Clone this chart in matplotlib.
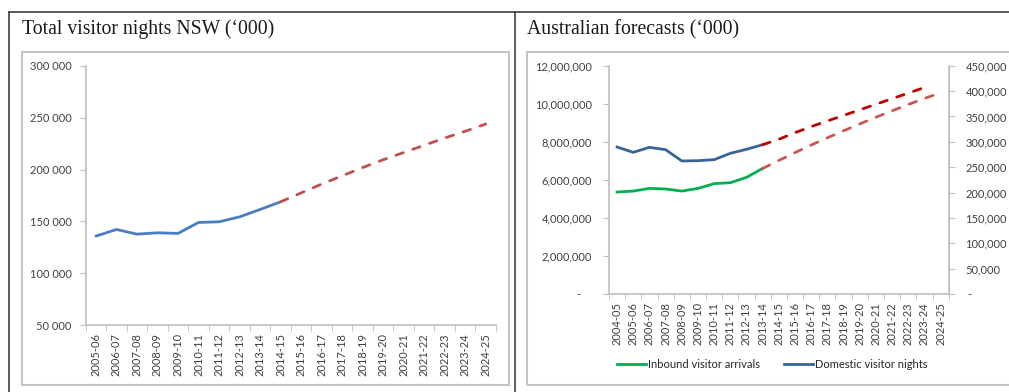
import matplotlib.pyplot as plt
from matplotlib.lines import Line2D
from matplotlib.patches import Rectangle
from matplotlib.ticker import FuncFormatter, MultipleLocator

plt.rcParams['font.family'] = ['Lato', 'DejaVu Sans']

# NSW visitor nights ('000)
nsw_years = ['2005-06', '2006-07', '2007-08', '2008-09', '2009-10', '2010-11', '2011-12',
             '2012-13', '2013-14', '2014-15', '2015-16', '2016-17', '2017-18', '2018-19',
             '2019-20', '2020-21', '2021-22', '2022-23', '2023-24', '2024-25']
nsw_actual = [135800, 142200, 137700, 139000, 138400, 149000, 149600, 154400, 161500, 168900]
nsw_forecast = [168900, 177500, 186000, 194000, 202000, 209500, 216500, 223500, 230500,
                237000, 244000]

# Australia: inbound arrivals (left axis) and domestic nights (right axis)
aus_years = ['2004-05'] + nsw_years
inbound_actual = [5360000, 5410000, 5550000, 5520000, 5410000, 5550000, 5800000, 5850000,
                  6130000, 6600000]
inbound_forecast = [6600000, 7020000, 7430000, 7830000, 8210000, 8580000, 8940000, 9290000,
                    9630000, 9960000, 10280000, 10580000]
domestic_actual = [289700, 279200, 289100, 284500, 262200, 262800, 264800, 277300, 285200,
                   294300]
domestic_forecast = [294300, 305000, 318000, 330000, 341000, 352000, 363000, 374000, 385000,
                     396000, 407000]

W, H = 1009, 392
fig = plt.figure(figsize=(W / 100, H / 100), dpi=100)


def fx(px):
    return px / W


def fy(py):
    return 1 - py / H


# outer frame lines and inner chart boxes
dark = '#404040'
fig.add_artist(Line2D([fx(9), 1], [fy(12), fy(12)], color=dark, lw=1.2))
fig.add_artist(Line2D([fx(9), fx(9)], [fy(12), 0], color=dark, lw=1.2))
fig.add_artist(Line2D([fx(514.5), fx(514.5)], [fy(12), 0], color=dark, lw=1.2))
for x0, x1 in [(22, 509), (527, 1012)]:
    fig.add_artist(Rectangle((fx(x0), fy(385)), fx(x1 - x0), (385 - 52) / H,
                             fill=False, ec='#c4c4c4', lw=1.5))

fig.text(fx(22), fy(34), 'Total visitor nights NSW (\u2018000)', family='Liberation Serif',
         fontsize=14.2, color='#1a1a1a', va='baseline')
fig.text(fx(527), fy(34), 'Australian forecasts (\u2018000)', family='Liberation Serif',
         fontsize=14.2, color='#1a1a1a', va='baseline')

grey = '#bfbfbf'
lbl = '#404040'
dash = (0, (2.8, 3.6))


def style_cat_axis(ax, labels):
    n = len(labels)
    ax.set_xlim(-0.5, n - 0.5)
    ax.set_xticks(range(n))
    ax.set_xticklabels(labels, rotation=90, fontsize=8, color=lbl)
    ax.set_xticks([i - 0.5 for i in range(n + 1)], minor=True)
    ax.tick_params(axis='x', which='major', length=0, pad=6)
    ax.tick_params(axis='x', which='minor', length=4, color=grey, direction='out')
    for s in ['top', 'right']:
        ax.spines[s].set_visible(False)
    ax.spines['left'].set_color(grey)
    ax.spines['bottom'].set_color(grey)
    ax.spines['left'].set_linewidth(1.2)
    ax.spines['bottom'].set_linewidth(1.2)


# left chart
ax1 = fig.add_axes([fx(85.7), fy(325), fx(496 - 85.7), (325 - 66) / H])
style_cat_axis(ax1, nsw_years)
ax1.set_ylim(50000, 300000)
ax1.yaxis.set_major_locator(MultipleLocator(50000))
ax1.yaxis.set_major_formatter(FuncFormatter(lambda v, p: f'{int(v):,}'.replace(',', ' ')))
ax1.tick_params(axis='y', length=4, color=grey, pad=6, labelsize=8, labelcolor=lbl)
ax1.plot(range(len(nsw_actual)), nsw_actual, color='#4a7cc4', lw=2, solid_capstyle='round')
ax1.plot(range(len(nsw_actual) - 1, len(nsw_years)), nsw_forecast, color='#c0504d', lw=2,
         linestyle=dash, dash_capstyle='round')

# right chart
ax2 = fig.add_axes([fx(609), fy(294), fx(948.7 - 609), (294 - 65.7) / H])
style_cat_axis(ax2, aus_years)
ax2.spines['right'].set_visible(True)
ax2.spines['right'].set_color(grey)
ax2.set_ylim(0, 12000000)
ax2.yaxis.set_major_locator(MultipleLocator(2000000))
ax2.yaxis.set_major_formatter(FuncFormatter(lambda v, p: f'{int(v):,}' if v else '-    '))
ax2.tick_params(axis='y', length=4, color=grey, pad=8, labelsize=8, labelcolor=lbl)

ax3 = ax2.twinx()
ax3.set_ylim(0, 450000)
ax3.yaxis.set_major_locator(MultipleLocator(50000))
ax3.yaxis.set_major_formatter(FuncFormatter(lambda v, p: f'{int(v):,}' if v else ' -'))
ax3.tick_params(axis='y', length=4, color=grey, pad=8, labelsize=8, labelcolor=lbl)
for s in ['top', 'left', 'bottom']:
    ax3.spines[s].set_visible(False)
ax3.spines['right'].set_color(grey)
ax3.spines['right'].set_linewidth(1.2)

n_act = len(inbound_actual)
g_line, = ax2.plot(range(n_act), inbound_actual, color='#00b050', lw=2)
ax2.plot(range(n_act - 1, n_act - 1 + len(inbound_forecast)), inbound_forecast,
         color='#cc5555', lw=2, linestyle=dash, dash_capstyle='round')
b_line, = ax3.plot(range(n_act), domestic_actual, color='#3a6398', lw=2)
ax3.plot(range(n_act - 1, n_act - 1 + len(domestic_forecast)), domestic_forecast,
         color='#c00000', lw=2, linestyle=dash, dash_capstyle='round')

fig.legend([g_line, b_line], ['Inbound visitor arrivals', 'Domestic visitor nights'],
           loc='center', bbox_to_anchor=(fx(772), fy(364)), ncol=2, frameon=False,
           fontsize=8, handlelength=2.6, handletextpad=0.15, columnspacing=2.2,
           labelcolor='#262626')

fig.savefig('out.png', dpi=100)
